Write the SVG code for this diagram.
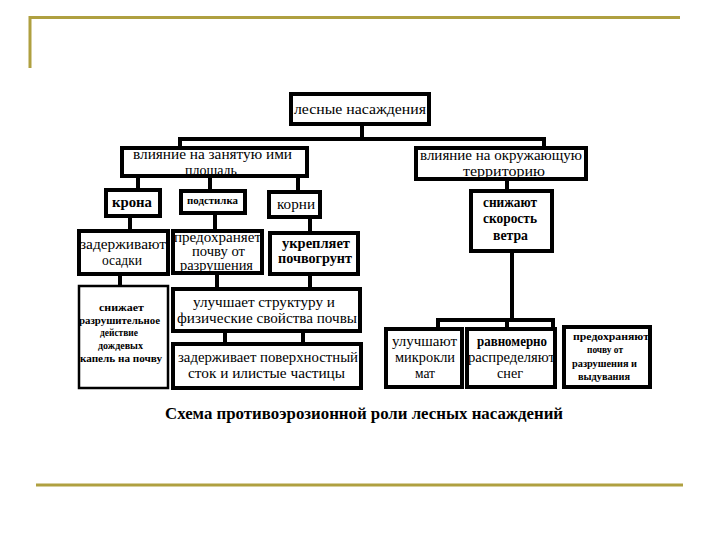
<svg xmlns="http://www.w3.org/2000/svg" width="720" height="540" viewBox="0 0 720 540">
<style>
.box{fill:#fff;stroke:#000;stroke-width:4}
.thin{fill:#fff;stroke:#000;stroke-width:2.5}
.t{font-family:'Liberation Serif','Times New Roman','DejaVu Serif',serif;font-size:14px;fill:#000}
.b{font-weight:bold}
.s{font-size:10px}
.xs{font-size:9.5px}
.conn line{stroke:#000;stroke-width:4;stroke-linecap:square}
.frame{stroke:#AFA040;stroke-width:3;fill:none}
</style>
<rect width="720" height="540" fill="#fff"/>
<g id="frame">
<path class="frame" d="M30,68 V17.5 H680"/>
<line class="frame" x1="36" y1="485" x2="683" y2="485"/>
</g>
<g class="conn" id="connectors">
<line x1="362" y1="125" x2="362" y2="139"/>
<line x1="180" y1="139" x2="544" y2="139"/>
<line x1="180" y1="139" x2="180" y2="148"/>
<line x1="544" y1="139" x2="544" y2="148"/>
<line x1="138" y1="176" x2="138" y2="190"/>
<line x1="210" y1="176" x2="210" y2="191"/>
<line x1="298" y1="176" x2="298" y2="192"/>
<line x1="130" y1="216" x2="130" y2="231"/>
<line x1="215" y1="213" x2="215" y2="231"/>
<line x1="310" y1="217" x2="310" y2="233"/>
<line x1="120" y1="274" x2="120" y2="286"/>
<line x1="217" y1="273" x2="217" y2="289"/>
<line x1="310" y1="274" x2="310" y2="289"/>
<line x1="225" y1="331" x2="225" y2="344"/>
<line x1="303" y1="331" x2="303" y2="344"/>
<line x1="507" y1="179" x2="507" y2="191"/>
<line x1="512" y1="251" x2="512" y2="320"/>
<line x1="438" y1="320" x2="553" y2="320"/>
<line x1="438" y1="320" x2="438" y2="329"/>
<line x1="507" y1="320" x2="507" y2="329"/>
<line x1="553" y1="320" x2="553" y2="329"/>
</g>
<g id="n1">
<rect class="box" x="291" y="94" width="138" height="30"/>
<text class="t" x="294" y="114" textLength="132" lengthAdjust="spacingAndGlyphs">лесные насаждения</text>
</g>
<g id="n2">
<rect class="box" x="122" y="148" width="185" height="28"/>
<text class="t" x="133" y="159" textLength="159" lengthAdjust="spacingAndGlyphs">влияние на занятую ими</text>
<text class="t" x="185" y="175" textLength="52" lengthAdjust="spacingAndGlyphs">площадь</text>
</g>
<g id="n3">
<rect class="box" x="416" y="148" width="170" height="31"/>
<text class="t" x="420" y="160" textLength="162" lengthAdjust="spacingAndGlyphs">влияние на окружающую</text>
<text class="t" x="463" y="176" textLength="82" lengthAdjust="spacingAndGlyphs">территорию</text>
</g>
<g id="n4">
<rect class="box" x="106" y="190" width="54" height="26"/>
<text class="t b" x="112" y="207" textLength="40" lengthAdjust="spacingAndGlyphs">крона</text>
</g>
<g id="n5">
<rect class="box" x="181" y="191" width="64" height="22"/>
<text class="t b s" x="187" y="204" textLength="51" lengthAdjust="spacingAndGlyphs">подстилка</text>
</g>
<g id="n6">
<rect class="box" x="269" y="192" width="51" height="25"/>
<text class="t" x="277" y="209" textLength="38" lengthAdjust="spacingAndGlyphs">корни</text>
</g>
<g id="n7">
<rect class="box" x="79" y="231" width="89" height="43"/>
<text class="t" x="80" y="249" textLength="86" lengthAdjust="spacingAndGlyphs">задерживают</text>
<text class="t" x="102" y="265" textLength="40" lengthAdjust="spacingAndGlyphs">осадки</text>
</g>
<g id="n8">
<rect class="box" x="173" y="231" width="89" height="42"/>
<text class="t" x="174" y="242" textLength="87" lengthAdjust="spacingAndGlyphs">предохраняет</text>
<text class="t" x="192" y="256" textLength="53" lengthAdjust="spacingAndGlyphs">почву от</text>
<text class="t" x="180" y="270" textLength="73" lengthAdjust="spacingAndGlyphs">разрушения</text>
</g>
<g id="n9">
<rect class="box" x="270" y="233" width="88" height="41"/>
<text class="t b" x="282" y="248" textLength="68" lengthAdjust="spacingAndGlyphs">укрепляет</text>
<text class="t b" x="278" y="263" textLength="74" lengthAdjust="spacingAndGlyphs">почвогрунт</text>
</g>
<g id="n10">
<rect class="thin" x="79" y="286" width="89" height="102"/>
<text class="t b xs" x="99" y="311" textLength="45" lengthAdjust="spacingAndGlyphs">снижает</text>
<text class="t b xs" x="79" y="324" textLength="81" lengthAdjust="spacingAndGlyphs">разрушительное</text>
<text class="t b xs" x="100" y="336" textLength="38" lengthAdjust="spacingAndGlyphs">действие</text>
<text class="t b xs" x="98" y="349" textLength="45" lengthAdjust="spacingAndGlyphs">дождевых</text>
<text class="t b xs" x="80" y="362" textLength="82" lengthAdjust="spacingAndGlyphs">капель на почву</text>
</g>
<g id="n11">
<rect class="box" x="173" y="289" width="187" height="42"/>
<text class="t" x="193" y="307" textLength="142" lengthAdjust="spacingAndGlyphs">улучшает структуру и</text>
<text class="t" x="177" y="323" textLength="180" lengthAdjust="spacingAndGlyphs">физические свойства почвы</text>
</g>
<g id="n12">
<rect class="box" x="173" y="344" width="188" height="44"/>
<text class="t" x="178" y="362" textLength="180" lengthAdjust="spacingAndGlyphs">задерживает поверхностный</text>
<text class="t" x="188" y="378" textLength="157" lengthAdjust="spacingAndGlyphs">сток и илистые частицы</text>
</g>
<g id="n13">
<rect class="box" x="471" y="191" width="81" height="60"/>
<text class="t b" x="483" y="207" textLength="54" lengthAdjust="spacingAndGlyphs">снижают</text>
<text class="t b" x="483" y="223" textLength="54" lengthAdjust="spacingAndGlyphs">скорость</text>
<text class="t b" x="493" y="240" textLength="35" lengthAdjust="spacingAndGlyphs">ветра</text>
</g>
<g id="n14">
<rect class="box" x="386" y="329" width="76" height="58"/>
<text class="t" x="392" y="346" textLength="65" lengthAdjust="spacingAndGlyphs">улучшают</text>
<text class="t" x="395" y="362" textLength="60" lengthAdjust="spacingAndGlyphs">микрокли</text>
<text class="t" x="415" y="378" textLength="20" lengthAdjust="spacingAndGlyphs">мат</text>
</g>
<g id="n15">
<rect class="box" x="467" y="329" width="88" height="58"/>
<text class="t b" x="477" y="346" textLength="70" lengthAdjust="spacingAndGlyphs">равномерно</text>
<text class="t" x="468" y="362" textLength="87" lengthAdjust="spacingAndGlyphs">распределяют</text>
<text class="t" x="497" y="378" textLength="26" lengthAdjust="spacingAndGlyphs">снег</text>
</g>
<g id="n16">
<rect class="box" x="564" y="327" width="86" height="60"/>
<text class="t b xs" x="573" y="340" textLength="76" lengthAdjust="spacingAndGlyphs">предохраняют</text>
<text class="t b xs" x="587" y="353" textLength="36" lengthAdjust="spacingAndGlyphs">почву от</text>
<text class="t b xs" x="572" y="367" textLength="65" lengthAdjust="spacingAndGlyphs">разрушения и</text>
<text class="t b xs" x="578" y="380" textLength="52" lengthAdjust="spacingAndGlyphs">выдувания</text>
</g>
<g id="caption">
<text class="t b" x="165" y="419" style="font-size:16px" textLength="398" lengthAdjust="spacingAndGlyphs">Схема противоэрозионной роли лесных насаждений</text>
</g>
</svg>
